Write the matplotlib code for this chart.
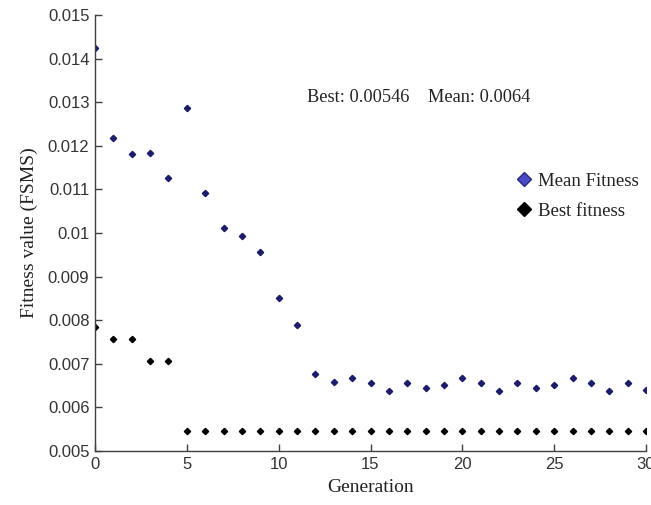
import matplotlib.pyplot as plt
from matplotlib.ticker import FuncFormatter

# fitness per generation
generations = list(range(31))
mean_fitness = [0.01424, 0.01219, 0.01182, 0.01184, 0.01126, 0.01286, 0.01092,
                0.01011, 0.00994, 0.00956, 0.00850, 0.00789, 0.00677, 0.00659,
                0.00668, 0.00657, 0.00638, 0.00657, 0.00645, 0.00651, 0.00668,
                0.00657, 0.00638, 0.00657, 0.00645, 0.00651, 0.00668, 0.00657,
                0.00638, 0.00657, 0.0064]
best_fitness = [0.00784, 0.00758, 0.00758, 0.00706, 0.00706] + [0.00546] * 26

best_final = 0.00546
mean_final = 0.0064

serif = "Liberation Serif"
sans = "Liberation Sans"

fig = plt.figure(figsize=(6.51, 5.05), dpi=100)
ax = fig.add_axes([95 / 651, 54 / 505, 551 / 651, 436 / 505])

ax.plot(generations, mean_fitness, linestyle="none", marker="D", markersize=3.2,
        color="#1c1c6a", label="Mean Fitness")
ax.plot(generations, best_fitness, linestyle="none", marker="D", markersize=3.2,
        color="black", label="Best fitness")

ax.set_xlim(0, 30)
ax.set_ylim(0.005, 0.015)
ax.set_xticks([0, 5, 10, 15, 20, 25, 30])
ax.set_yticks([0.005 + 0.001 * i for i in range(11)])
ax.yaxis.set_major_formatter(FuncFormatter(lambda v, p: "%g" % round(v, 4)))

for side in ("top", "right"):
    ax.spines[side].set_visible(False)
for side in ("left", "bottom"):
    ax.spines[side].set_color("#404040")
    ax.spines[side].set_linewidth(1.0)
ax.tick_params(direction="in", length=5, width=1, color="#404040",
               labelsize=12, labelcolor="#333333", pad=4)
for lbl in ax.get_xticklabels() + ax.get_yticklabels():
    lbl.set_family(sans)

ax.set_xlabel("Generation", family=serif, fontsize=14, color="#222222", labelpad=5)
ax.set_ylabel("Fitness value (FSMS)", family=serif, fontsize=14, color="#222222", labelpad=7)

ax.text(11.55, 0.0131, "Best: %g    Mean: %g" % (best_final, mean_final),
        family=serif, fontsize=13.2, color="#222222", va="center", ha="left")

# legend markers are a bit larger, the mean one in a lighter blue
leg = ax.legend(loc="upper left", bbox_to_anchor=(511 / 651, 1 - 165 / 505),
                bbox_transform=fig.transFigure, frameon=False,
                prop={"family": serif, "size": 13.5}, handlelength=0.6,
                handletextpad=0.45, labelspacing=0.7, borderaxespad=0)
handles = leg.legend_handles
handles[0].set_markerfacecolor("#4a4ac4")
handles[0].set_markeredgecolor("#2a2a80")
handles[0].set_markersize(7)
handles[1].set_markersize(7)
for t in leg.get_texts():
    t.set_color("#222222")

fig.savefig("out.png", dpi=100)
